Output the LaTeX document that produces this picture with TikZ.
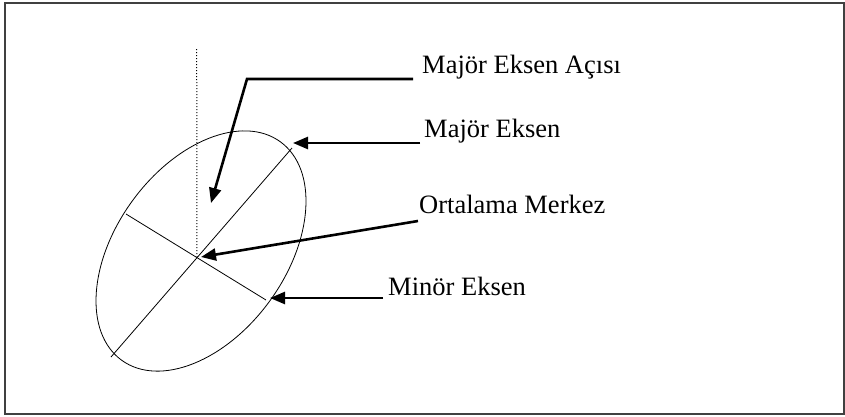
\documentclass[tikz,border=0pt]{standalone}
\usepackage{fontspec}
\setmainfont{Liberation Serif}
\usetikzlibrary{arrows.meta,calc}

\begin{document}
\begin{tikzpicture}[
  x=1pt,y=-1pt,
  font=\fontsize{26.5}{30}\selectfont,
  >={Triangle[length=15pt,width=12pt]},
  label/.style={anchor=base west,inner sep=0pt},
  axis/.style={line width=0.8pt},
  pointer/.style={->,line width=2.6pt},
  frame/.style={draw=black!75,line width=1.6pt}
]
  \useasboundingbox (0,0) rectangle (845,416);
  \draw[frame] (5,3) rectangle (844,414);

  % ellipse and its axes
  \coordinate (ectr) at (201,251);
  \coordinate (ctr) at (197,257);
  \coordinate (majtop) at (292,148);
  \coordinate (majbot) at (111,357);
  \coordinate (minleft) at (126,214);
  \coordinate (minright) at (266,300);
  \coordinate (vtop) at (196.7,49);
  \draw[axis,rotate=54] (ectr) ellipse [x radius=135,y radius=85];
  \draw[axis] (majbot) -- (majtop);
  \draw[axis] (minleft) -- (minright);
  \draw[line width=1pt,dash pattern=on 1pt off 2pt] (ctr) -- (vtop);

  % labels
  \node[label] (lblangle) at (422,73) {Majör Eksen Açısı};
  \node[label] (lblmajor) at (424,137) {Majör Eksen};
  \node[label] (lblcenter) at (419,213) {Ortalama Merkez};
  \node[label] (lblminor) at (388,295) {Minör Eksen};

  % pointers
  \coordinate (angletip) at (211,203);
  \coordinate (bend) at (247,79);
  \draw[pointer] ($(lblangle.base west)+(-9,6)$) -- (bend) -- (angletip);
  \draw[pointer] ($(lblmajor.base west)+(-4,6)$) -- ($(majtop)+(1,-5)$);
  \draw[pointer] ($(lblcenter.base west)+(-1,8)$) -- ($(ctr)+(4,0)$);
  \draw[pointer] ($(lblminor.base west)+(-5,3)$) -- ($(minright)+(4,-2)$);
\end{tikzpicture}
\end{document}
